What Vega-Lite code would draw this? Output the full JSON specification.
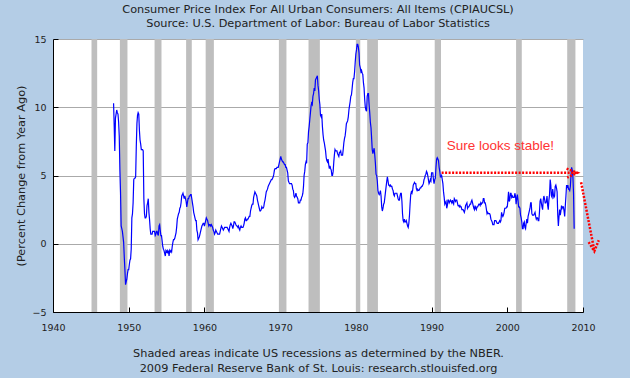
{
"$schema":"https://vega.github.io/schema/vega-lite/v6.json",
"width":530,"height":273,
"autosize":{"type":"none"},
"padding":{"left":53,"top":39,"right":47,"bottom":66},
"background":"#b4cde6",
"title":{"text":["Consumer Price Index For All Urban Consumers: All Items (CPIAUCSL)","Source: U.S. Department of Labor: Bureau of Labor Statistics"],"font":"DejaVu Sans","fontSize":11.3,"fontWeight":"normal","color":"#222222","lineHeight":14,"offset":5,"anchor":"middle"},
"config":{
"view":{"fill":"white","stroke":null},
"axisX":{"domainColor":"#000000","tickColor":"#000000","tickSize":-5,"labelPadding":15,"labelFont":"DejaVu Sans","labelFontSize":9.5,"labelColor":"#222222","grid":false,"titleFont":"DejaVu Sans","titleFontSize":11.3,"titleFontWeight":"normal","titleColor":"#222222","titlePadding":16,"titleLineHeight":14.5,"labelFlush":false},
"axisY":{"domainColor":"#000000","tickColor":"#000000","tickSize":-5,"labelPadding":12,"grid":true,"gridColor":"#aaaaaa","gridOpacity":1,"labelFont":"DejaVu Sans","labelFontSize":9.5,"labelColor":"#222222","titleFont":"DejaVu Sans","titleFontSize":11.3,"titleFontWeight":"normal","titleColor":"#222222","titlePadding":5}
},
"datasets":{
"rec":[{"d":"1945-02","d2":"1945-11"},{"d":"1948-11","d2":"1949-11"},{"d":"1953-06","d2":"1954-05"},{"d":"1957-08","d2":"1958-05"},{"d":"1960-03","d2":"1961-04"},{"d":"1969-11","d2":"1970-11"},{"d":"1973-10","d2":"1975-04"},{"d":"1980-01","d2":"1980-08"},{"d":"1981-07","d2":"1982-12"},{"d":"1990-06","d2":"1991-04"},{"d":"2001-03","d2":"2001-12"},{"d":"2007-12","d2":"2009-01"}],
"arrows":[{"g":"h","o":1,"d":"1991-05","v":5.2},{"g":"h","o":2,"d":"2009-04","v":5.2},{"g":"a1","o":1,"d":"2007-11","v":5.5},{"g":"a1","o":2,"d":"2009-04","v":5.2},{"g":"a1","o":3,"d":"2007-12","v":4.85},{"g":"dg","o":1,"d":"2009-10","v":4.5},{"g":"dg","o":2,"d":"2011-07","v":-0.5},{"g":"a2","o":1,"d":"2010-10","v":0.12},{"g":"a2","o":2,"d":"2011-07","v":-0.55},{"g":"a2","o":3,"d":"2012-02","v":0.26}],
"note":[{"d":"1999-02","v":6.9,"label":"Sure looks stable!"}],
"cpi":[
{"d":"1948-01","v":10.3},{"d":"1948-02","v":8.6},{"d":"1948-03","v":6.8},{"d":"1948-04","v":9.2},{"d":"1948-05","v":9.5},{"d":"1948-06","v":9.8},{"d":"1948-07","v":9.6},{"d":"1948-08","v":9.5},{"d":"1948-09","v":8.9},{"d":"1948-10","v":7.9},{"d":"1948-11","v":5.4},{"d":"1948-12","v":3.8},
{"d":"1949-01","v":1.3},{"d":"1949-02","v":1.1},{"d":"1949-03","v":0.9},{"d":"1949-04","v":0.5},{"d":"1949-05","v":0.1},{"d":"1949-06","v":-1.0},{"d":"1949-07","v":-1.9},{"d":"1949-08","v":-3.0},{"d":"1949-09","v":-2.8},{"d":"1949-10","v":-2.6},{"d":"1949-11","v":-2.2},{"d":"1949-12","v":-1.9},
{"d":"1950-01","v":-1.9},{"d":"1950-02","v":-1.5},{"d":"1950-03","v":-1.2},{"d":"1950-04","v":-1.1},{"d":"1950-05","v":-0.4},{"d":"1950-06","v":1.9},{"d":"1950-07","v":2.2},{"d":"1950-08","v":3.0},{"d":"1950-09","v":4.7},{"d":"1950-10","v":4.8},{"d":"1950-11","v":4.8},{"d":"1950-12","v":4.9},
{"d":"1951-01","v":7.1},{"d":"1951-02","v":8.8},{"d":"1951-03","v":9.4},{"d":"1951-04","v":9.6},{"d":"1951-05","v":9.5},{"d":"1951-06","v":8.3},{"d":"1951-07","v":7.6},{"d":"1951-08","v":7.3},{"d":"1951-09","v":6.9},{"d":"1951-10","v":6.9},{"d":"1951-11","v":6.9},{"d":"1951-12","v":6.8},
{"d":"1952-01","v":3.3},{"d":"1952-02","v":2.2},{"d":"1952-03","v":1.9},{"d":"1952-04","v":1.9},{"d":"1952-05","v":2.0},{"d":"1952-06","v":2.8},{"d":"1952-07","v":3.0},{"d":"1952-08","v":3.3},{"d":"1952-09","v":2.3},{"d":"1952-10","v":1.8},{"d":"1952-11","v":1.1},{"d":"1952-12","v":0.7},
{"d":"1953-01","v":0.7},{"d":"1953-02","v":0.7},{"d":"1953-03","v":0.9},{"d":"1953-04","v":0.9},{"d":"1953-05","v":0.9},{"d":"1953-06","v":0.9},{"d":"1953-07","v":0.6},{"d":"1953-08","v":0.7},{"d":"1953-09","v":0.9},{"d":"1953-10","v":0.9},{"d":"1953-11","v":0.7},{"d":"1953-12","v":0.6},
{"d":"1954-01","v":1.3},{"d":"1954-02","v":1.4},{"d":"1954-03","v":1.0},{"d":"1954-04","v":0.6},{"d":"1954-05","v":0.6},{"d":"1954-06","v":0.2},{"d":"1954-07","v":-0.2},{"d":"1954-08","v":-0.4},{"d":"1954-09","v":-0.5},{"d":"1954-10","v":-0.7},{"d":"1954-11","v":-0.9},{"d":"1954-12","v":-0.5},
{"d":"1955-01","v":-0.6},{"d":"1955-02","v":-0.5},{"d":"1955-03","v":-0.7},{"d":"1955-04","v":-0.5},{"d":"1955-05","v":-0.9},{"d":"1955-06","v":-0.5},{"d":"1955-07","v":-0.6},{"d":"1955-08","v":-0.5},{"d":"1955-09","v":-0.6},{"d":"1955-10","v":-0.2},{"d":"1955-11","v":0.1},{"d":"1955-12","v":0.3},
{"d":"1956-01","v":0.3},{"d":"1956-02","v":0.4},{"d":"1956-03","v":0.6},{"d":"1956-04","v":0.8},{"d":"1956-05","v":1.2},{"d":"1956-06","v":1.8},{"d":"1956-07","v":2.0},{"d":"1956-08","v":2.2},{"d":"1956-09","v":2.3},{"d":"1956-10","v":2.6},{"d":"1956-11","v":2.7},{"d":"1956-12","v":3.0},
{"d":"1957-01","v":3.5},{"d":"1957-02","v":3.6},{"d":"1957-03","v":3.7},{"d":"1957-04","v":3.5},{"d":"1957-05","v":3.3},{"d":"1957-06","v":3.5},{"d":"1957-07","v":3.3},{"d":"1957-08","v":3.1},{"d":"1957-09","v":2.7},{"d":"1957-10","v":3.0},{"d":"1957-11","v":3.3},{"d":"1957-12","v":3.3},
{"d":"1958-01","v":3.5},{"d":"1958-02","v":3.5},{"d":"1958-03","v":3.6},{"d":"1958-04","v":3.6},{"d":"1958-05","v":3.3},{"d":"1958-06","v":3.0},{"d":"1958-07","v":2.7},{"d":"1958-08","v":2.3},{"d":"1958-09","v":2.1},{"d":"1958-10","v":1.9},{"d":"1958-11","v":1.7},{"d":"1958-12","v":1.7},
{"d":"1959-01","v":1.0},{"d":"1959-02","v":0.8},{"d":"1959-03","v":0.3},{"d":"1959-04","v":0.4},{"d":"1959-05","v":0.5},{"d":"1959-06","v":0.7},{"d":"1959-07","v":0.9},{"d":"1959-08","v":1.1},{"d":"1959-09","v":1.3},{"d":"1959-10","v":1.4},{"d":"1959-11","v":1.5},{"d":"1959-12","v":1.5},
{"d":"1960-01","v":1.3},{"d":"1960-02","v":1.5},{"d":"1960-03","v":1.7},{"d":"1960-04","v":1.9},{"d":"1960-05","v":1.8},{"d":"1960-06","v":1.7},{"d":"1960-07","v":1.5},{"d":"1960-08","v":1.3},{"d":"1960-09","v":1.4},{"d":"1960-10","v":1.4},{"d":"1960-11","v":1.3},{"d":"1960-12","v":1.4},
{"d":"1961-01","v":1.3},{"d":"1961-02","v":1.2},{"d":"1961-03","v":1.0},{"d":"1961-04","v":0.9},{"d":"1961-05","v":0.7},{"d":"1961-06","v":0.8},{"d":"1961-07","v":1.0},{"d":"1961-08","v":0.9},{"d":"1961-09","v":0.8},{"d":"1961-10","v":0.7},{"d":"1961-11","v":0.7},{"d":"1961-12","v":0.7},
{"d":"1962-01","v":0.7},{"d":"1962-02","v":0.9},{"d":"1962-03","v":1.1},{"d":"1962-04","v":1.3},{"d":"1962-05","v":1.2},{"d":"1962-06","v":1.1},{"d":"1962-07","v":1.0},{"d":"1962-08","v":1.1},{"d":"1962-09","v":1.2},{"d":"1962-10","v":1.2},{"d":"1962-11","v":1.2},{"d":"1962-12","v":1.2},
{"d":"1963-01","v":1.2},{"d":"1963-02","v":1.1},{"d":"1963-03","v":1.0},{"d":"1963-04","v":0.9},{"d":"1963-05","v":1.2},{"d":"1963-06","v":1.4},{"d":"1963-07","v":1.5},{"d":"1963-08","v":1.4},{"d":"1963-09","v":1.3},{"d":"1963-10","v":1.1},{"d":"1963-11","v":1.3},{"d":"1963-12","v":1.6},
{"d":"1964-01","v":1.6},{"d":"1964-02","v":1.5},{"d":"1964-03","v":1.4},{"d":"1964-04","v":1.3},{"d":"1964-05","v":1.3},{"d":"1964-06","v":1.2},{"d":"1964-07","v":1.3},{"d":"1964-08","v":1.1},{"d":"1964-09","v":1.0},{"d":"1964-10","v":1.2},{"d":"1964-11","v":1.3},{"d":"1964-12","v":1.2},
{"d":"1965-01","v":1.2},{"d":"1965-02","v":1.2},{"d":"1965-03","v":1.3},{"d":"1965-04","v":1.5},{"d":"1965-05","v":1.8},{"d":"1965-06","v":1.9},{"d":"1965-07","v":1.7},{"d":"1965-08","v":1.7},{"d":"1965-09","v":1.8},{"d":"1965-10","v":1.8},{"d":"1965-11","v":1.9},{"d":"1965-12","v":2.0},
{"d":"1966-01","v":2.0},{"d":"1966-02","v":2.4},{"d":"1966-03","v":2.6},{"d":"1966-04","v":2.8},{"d":"1966-05","v":2.9},{"d":"1966-06","v":2.9},{"d":"1966-07","v":3.4},{"d":"1966-08","v":3.6},{"d":"1966-09","v":3.8},{"d":"1966-10","v":3.7},{"d":"1966-11","v":3.6},{"d":"1966-12","v":3.5},
{"d":"1967-01","v":3.2},{"d":"1967-02","v":3.0},{"d":"1967-03","v":2.8},{"d":"1967-04","v":2.6},{"d":"1967-05","v":2.4},{"d":"1967-06","v":2.4},{"d":"1967-07","v":2.5},{"d":"1967-08","v":2.7},{"d":"1967-09","v":2.6},{"d":"1967-10","v":2.6},{"d":"1967-11","v":2.7},{"d":"1967-12","v":3.0},
{"d":"1968-01","v":3.2},{"d":"1968-02","v":3.5},{"d":"1968-03","v":3.8},{"d":"1968-04","v":3.9},{"d":"1968-05","v":4.0},{"d":"1968-06","v":4.2},{"d":"1968-07","v":4.3},{"d":"1968-08","v":4.4},{"d":"1968-09","v":4.5},{"d":"1968-10","v":4.6},{"d":"1968-11","v":4.7},{"d":"1968-12","v":4.7},
{"d":"1969-01","v":4.8},{"d":"1969-02","v":4.9},{"d":"1969-03","v":5.1},{"d":"1969-04","v":5.4},{"d":"1969-05","v":5.5},{"d":"1969-06","v":5.5},{"d":"1969-07","v":5.5},{"d":"1969-08","v":5.6},{"d":"1969-09","v":5.6},{"d":"1969-10","v":5.6},{"d":"1969-11","v":5.8},{"d":"1969-12","v":6.0},
{"d":"1970-01","v":6.2},{"d":"1970-02","v":6.4},{"d":"1970-03","v":6.2},{"d":"1970-04","v":6.1},{"d":"1970-05","v":6.0},{"d":"1970-06","v":6.0},{"d":"1970-07","v":5.9},{"d":"1970-08","v":5.8},{"d":"1970-09","v":5.8},{"d":"1970-10","v":5.6},{"d":"1970-11","v":5.6},{"d":"1970-12","v":5.4},
{"d":"1971-01","v":5.2},{"d":"1971-02","v":4.6},{"d":"1971-03","v":4.5},{"d":"1971-04","v":4.4},{"d":"1971-05","v":4.4},{"d":"1971-06","v":4.4},{"d":"1971-07","v":4.4},{"d":"1971-08","v":4.3},{"d":"1971-09","v":4.0},{"d":"1971-10","v":3.9},{"d":"1971-11","v":3.5},{"d":"1971-12","v":3.4},
{"d":"1972-01","v":3.5},{"d":"1972-02","v":3.7},{"d":"1972-03","v":3.5},{"d":"1972-04","v":3.4},{"d":"1972-05","v":3.3},{"d":"1972-06","v":3.0},{"d":"1972-07","v":3.0},{"d":"1972-08","v":3.0},{"d":"1972-09","v":3.2},{"d":"1972-10","v":3.2},{"d":"1972-11","v":3.4},{"d":"1972-12","v":3.5},
{"d":"1973-01","v":3.7},{"d":"1973-02","v":4.2},{"d":"1973-03","v":5.0},{"d":"1973-04","v":5.3},{"d":"1973-05","v":5.8},{"d":"1973-06","v":6.0},{"d":"1973-07","v":5.9},{"d":"1973-08","v":7.3},{"d":"1973-09","v":7.4},{"d":"1973-10","v":8.2},{"d":"1973-11","v":8.6},{"d":"1973-12","v":9.1},
{"d":"1974-01","v":9.6},{"d":"1974-02","v":10.1},{"d":"1974-03","v":10.3},{"d":"1974-04","v":10.2},{"d":"1974-05","v":10.8},{"d":"1974-06","v":11.0},{"d":"1974-07","v":11.4},{"d":"1974-08","v":11.2},{"d":"1974-09","v":12.0},{"d":"1974-10","v":12.1},{"d":"1974-11","v":12.2},{"d":"1974-12","v":12.3},
{"d":"1975-01","v":11.6},{"d":"1975-02","v":11.2},{"d":"1975-03","v":10.6},{"d":"1975-04","v":10.2},{"d":"1975-05","v":9.4},{"d":"1975-06","v":9.3},{"d":"1975-07","v":9.5},{"d":"1975-08","v":8.6},{"d":"1975-09","v":8.0},{"d":"1975-10","v":7.6},{"d":"1975-11","v":7.4},{"d":"1975-12","v":7.1},
{"d":"1976-01","v":6.8},{"d":"1976-02","v":6.3},{"d":"1976-03","v":6.1},{"d":"1976-04","v":6.0},{"d":"1976-05","v":6.2},{"d":"1976-06","v":5.8},{"d":"1976-07","v":5.5},{"d":"1976-08","v":5.7},{"d":"1976-09","v":5.5},{"d":"1976-10","v":5.4},{"d":"1976-11","v":5.0},{"d":"1976-12","v":5.0},
{"d":"1977-01","v":5.3},{"d":"1977-02","v":6.0},{"d":"1977-03","v":6.5},{"d":"1977-04","v":6.9},{"d":"1977-05","v":6.8},{"d":"1977-06","v":6.8},{"d":"1977-07","v":6.8},{"d":"1977-08","v":6.6},{"d":"1977-09","v":6.5},{"d":"1977-10","v":6.4},{"d":"1977-11","v":6.7},{"d":"1977-12","v":6.7},
{"d":"1978-01","v":6.8},{"d":"1978-02","v":6.5},{"d":"1978-03","v":6.5},{"d":"1978-04","v":6.5},{"d":"1978-05","v":6.9},{"d":"1978-06","v":7.4},{"d":"1978-07","v":7.7},{"d":"1978-08","v":7.9},{"d":"1978-09","v":8.3},{"d":"1978-10","v":8.8},{"d":"1978-11","v":8.9},{"d":"1978-12","v":9.0},
{"d":"1979-01","v":9.3},{"d":"1979-02","v":9.8},{"d":"1979-03","v":10.1},{"d":"1979-04","v":10.4},{"d":"1979-05","v":10.8},{"d":"1979-06","v":10.9},{"d":"1979-07","v":11.3},{"d":"1979-08","v":11.8},{"d":"1979-09","v":12.1},{"d":"1979-10","v":12.1},{"d":"1979-11","v":12.6},{"d":"1979-12","v":13.3},
{"d":"1980-01","v":13.9},{"d":"1980-02","v":14.2},{"d":"1980-03","v":14.6},{"d":"1980-04","v":14.6},{"d":"1980-05","v":14.4},{"d":"1980-06","v":14.0},{"d":"1980-07","v":13.1},{"d":"1980-08","v":12.9},{"d":"1980-09","v":12.6},{"d":"1980-10","v":12.7},{"d":"1980-11","v":12.5},{"d":"1980-12","v":12.4},
{"d":"1981-01","v":11.8},{"d":"1981-02","v":11.4},{"d":"1981-03","v":10.6},{"d":"1981-04","v":10.0},{"d":"1981-05","v":9.8},{"d":"1981-06","v":9.7},{"d":"1981-07","v":10.8},{"d":"1981-08","v":11.0},{"d":"1981-09","v":11.0},{"d":"1981-10","v":10.2},{"d":"1981-11","v":9.6},{"d":"1981-12","v":8.9},
{"d":"1982-01","v":8.5},{"d":"1982-02","v":7.7},{"d":"1982-03","v":6.9},{"d":"1982-04","v":6.6},{"d":"1982-05","v":6.8},{"d":"1982-06","v":7.0},{"d":"1982-07","v":6.5},{"d":"1982-08","v":5.9},{"d":"1982-09","v":5.1},{"d":"1982-10","v":5.0},{"d":"1982-11","v":4.6},{"d":"1982-12","v":3.9},
{"d":"1983-01","v":3.7},{"d":"1983-02","v":3.6},{"d":"1983-03","v":3.7},{"d":"1983-04","v":3.9},{"d":"1983-05","v":3.5},{"d":"1983-06","v":2.7},{"d":"1983-07","v":2.4},{"d":"1983-08","v":2.6},{"d":"1983-09","v":2.9},{"d":"1983-10","v":3.0},{"d":"1983-11","v":3.4},{"d":"1983-12","v":3.8},
{"d":"1984-01","v":4.2},{"d":"1984-02","v":4.6},{"d":"1984-03","v":4.9},{"d":"1984-04","v":4.6},{"d":"1984-05","v":4.3},{"d":"1984-06","v":4.3},{"d":"1984-07","v":4.2},{"d":"1984-08","v":4.3},{"d":"1984-09","v":4.2},{"d":"1984-10","v":4.2},{"d":"1984-11","v":4.0},{"d":"1984-12","v":3.9},
{"d":"1985-01","v":3.6},{"d":"1985-02","v":3.5},{"d":"1985-03","v":3.7},{"d":"1985-04","v":3.7},{"d":"1985-05","v":3.7},{"d":"1985-06","v":3.7},{"d":"1985-07","v":3.5},{"d":"1985-08","v":3.3},{"d":"1985-09","v":3.2},{"d":"1985-10","v":3.2},{"d":"1985-11","v":3.5},{"d":"1985-12","v":3.7},
{"d":"1986-01","v":3.7},{"d":"1986-02","v":3.1},{"d":"1986-03","v":2.2},{"d":"1986-04","v":1.7},{"d":"1986-05","v":1.6},{"d":"1986-06","v":1.8},{"d":"1986-07","v":1.6},{"d":"1986-08","v":1.6},{"d":"1986-09","v":1.7},{"d":"1986-10","v":1.5},{"d":"1986-11","v":1.3},{"d":"1986-12","v":1.2},
{"d":"1987-01","v":1.5},{"d":"1987-02","v":2.1},{"d":"1987-03","v":2.9},{"d":"1987-04","v":3.6},{"d":"1987-05","v":3.8},{"d":"1987-06","v":3.7},{"d":"1987-07","v":3.9},{"d":"1987-08","v":4.3},{"d":"1987-09","v":4.4},{"d":"1987-10","v":4.5},{"d":"1987-11","v":4.4},{"d":"1987-12","v":4.4},
{"d":"1988-01","v":4.0},{"d":"1988-02","v":3.9},{"d":"1988-03","v":4.0},{"d":"1988-04","v":3.9},{"d":"1988-05","v":3.9},{"d":"1988-06","v":4.0},{"d":"1988-07","v":4.1},{"d":"1988-08","v":4.1},{"d":"1988-09","v":4.2},{"d":"1988-10","v":4.2},{"d":"1988-11","v":4.3},{"d":"1988-12","v":4.4},
{"d":"1989-01","v":4.7},{"d":"1989-02","v":4.8},{"d":"1989-03","v":5.0},{"d":"1989-04","v":5.1},{"d":"1989-05","v":5.3},{"d":"1989-06","v":5.2},{"d":"1989-07","v":5.0},{"d":"1989-08","v":4.7},{"d":"1989-09","v":4.4},{"d":"1989-10","v":4.5},{"d":"1989-11","v":4.7},{"d":"1989-12","v":4.6},
{"d":"1990-01","v":5.2},{"d":"1990-02","v":5.2},{"d":"1990-03","v":5.2},{"d":"1990-04","v":4.7},{"d":"1990-05","v":4.4},{"d":"1990-06","v":4.7},{"d":"1990-07","v":4.8},{"d":"1990-08","v":5.6},{"d":"1990-09","v":6.2},{"d":"1990-10","v":6.3},{"d":"1990-11","v":6.2},{"d":"1990-12","v":6.1},
{"d":"1991-01","v":5.6},{"d":"1991-02","v":5.3},{"d":"1991-03","v":4.9},{"d":"1991-04","v":4.9},{"d":"1991-05","v":5.0},{"d":"1991-06","v":4.7},{"d":"1991-07","v":4.4},{"d":"1991-08","v":3.8},{"d":"1991-09","v":3.4},{"d":"1991-10","v":2.9},{"d":"1991-11","v":3.0},{"d":"1991-12","v":3.1},
{"d":"1992-01","v":2.6},{"d":"1992-02","v":2.8},{"d":"1992-03","v":3.2},{"d":"1992-04","v":3.2},{"d":"1992-05","v":3.0},{"d":"1992-06","v":3.1},{"d":"1992-07","v":3.2},{"d":"1992-08","v":3.1},{"d":"1992-09","v":3.0},{"d":"1992-10","v":3.2},{"d":"1992-11","v":3.0},{"d":"1992-12","v":2.9},
{"d":"1993-01","v":3.3},{"d":"1993-02","v":3.2},{"d":"1993-03","v":3.1},{"d":"1993-04","v":3.2},{"d":"1993-05","v":3.2},{"d":"1993-06","v":3.0},{"d":"1993-07","v":2.8},{"d":"1993-08","v":2.8},{"d":"1993-09","v":2.7},{"d":"1993-10","v":2.8},{"d":"1993-11","v":2.7},{"d":"1993-12","v":2.7},
{"d":"1994-01","v":2.5},{"d":"1994-02","v":2.5},{"d":"1994-03","v":2.5},{"d":"1994-04","v":2.4},{"d":"1994-05","v":2.3},{"d":"1994-06","v":2.5},{"d":"1994-07","v":2.8},{"d":"1994-08","v":2.9},{"d":"1994-09","v":3.0},{"d":"1994-10","v":2.6},{"d":"1994-11","v":2.7},{"d":"1994-12","v":2.7},
{"d":"1995-01","v":2.8},{"d":"1995-02","v":2.9},{"d":"1995-03","v":2.9},{"d":"1995-04","v":3.1},{"d":"1995-05","v":3.2},{"d":"1995-06","v":3.0},{"d":"1995-07","v":2.8},{"d":"1995-08","v":2.6},{"d":"1995-09","v":2.5},{"d":"1995-10","v":2.8},{"d":"1995-11","v":2.6},{"d":"1995-12","v":2.5},
{"d":"1996-01","v":2.7},{"d":"1996-02","v":2.7},{"d":"1996-03","v":2.8},{"d":"1996-04","v":2.9},{"d":"1996-05","v":2.9},{"d":"1996-06","v":2.8},{"d":"1996-07","v":3.0},{"d":"1996-08","v":2.9},{"d":"1996-09","v":3.0},{"d":"1996-10","v":3.0},{"d":"1996-11","v":3.3},{"d":"1996-12","v":3.3},
{"d":"1997-01","v":3.0},{"d":"1997-02","v":3.0},{"d":"1997-03","v":2.8},{"d":"1997-04","v":2.5},{"d":"1997-05","v":2.2},{"d":"1997-06","v":2.3},{"d":"1997-07","v":2.2},{"d":"1997-08","v":2.2},{"d":"1997-09","v":2.2},{"d":"1997-10","v":2.1},{"d":"1997-11","v":1.8},{"d":"1997-12","v":1.7},
{"d":"1998-01","v":1.6},{"d":"1998-02","v":1.4},{"d":"1998-03","v":1.4},{"d":"1998-04","v":1.4},{"d":"1998-05","v":1.7},{"d":"1998-06","v":1.7},{"d":"1998-07","v":1.7},{"d":"1998-08","v":1.6},{"d":"1998-09","v":1.5},{"d":"1998-10","v":1.5},{"d":"1998-11","v":1.5},{"d":"1998-12","v":1.6},
{"d":"1999-01","v":1.7},{"d":"1999-02","v":1.6},{"d":"1999-03","v":1.7},{"d":"1999-04","v":2.3},{"d":"1999-05","v":2.1},{"d":"1999-06","v":2.0},{"d":"1999-07","v":2.1},{"d":"1999-08","v":2.3},{"d":"1999-09","v":2.6},{"d":"1999-10","v":2.6},{"d":"1999-11","v":2.6},{"d":"1999-12","v":2.7},
{"d":"2000-01","v":2.7},{"d":"2000-02","v":3.2},{"d":"2000-03","v":3.8},{"d":"2000-04","v":3.1},{"d":"2000-05","v":3.2},{"d":"2000-06","v":3.7},{"d":"2000-07","v":3.7},{"d":"2000-08","v":3.4},{"d":"2000-09","v":3.5},{"d":"2000-10","v":3.4},{"d":"2000-11","v":3.4},{"d":"2000-12","v":3.4},
{"d":"2001-01","v":3.7},{"d":"2001-02","v":3.5},{"d":"2001-03","v":2.9},{"d":"2001-04","v":3.3},{"d":"2001-05","v":3.6},{"d":"2001-06","v":3.2},{"d":"2001-07","v":2.7},{"d":"2001-08","v":2.7},{"d":"2001-09","v":2.6},{"d":"2001-10","v":2.1},{"d":"2001-11","v":1.9},{"d":"2001-12","v":1.6},
{"d":"2002-01","v":1.1},{"d":"2002-02","v":1.1},{"d":"2002-03","v":1.5},{"d":"2002-04","v":1.6},{"d":"2002-05","v":1.2},{"d":"2002-06","v":1.1},{"d":"2002-07","v":1.5},{"d":"2002-08","v":1.8},{"d":"2002-09","v":1.5},{"d":"2002-10","v":2.0},{"d":"2002-11","v":2.2},{"d":"2002-12","v":2.4},
{"d":"2003-01","v":2.6},{"d":"2003-02","v":3.0},{"d":"2003-03","v":3.0},{"d":"2003-04","v":2.2},{"d":"2003-05","v":2.1},{"d":"2003-06","v":2.1},{"d":"2003-07","v":2.1},{"d":"2003-08","v":2.2},{"d":"2003-09","v":2.3},{"d":"2003-10","v":2.0},{"d":"2003-11","v":1.8},{"d":"2003-12","v":1.9},
{"d":"2004-01","v":1.9},{"d":"2004-02","v":1.7},{"d":"2004-03","v":1.7},{"d":"2004-04","v":2.3},{"d":"2004-05","v":3.1},{"d":"2004-06","v":3.3},{"d":"2004-07","v":3.0},{"d":"2004-08","v":2.7},{"d":"2004-09","v":2.5},{"d":"2004-10","v":3.2},{"d":"2004-11","v":3.5},{"d":"2004-12","v":3.3},
{"d":"2005-01","v":3.0},{"d":"2005-02","v":3.0},{"d":"2005-03","v":3.1},{"d":"2005-04","v":3.5},{"d":"2005-05","v":2.8},{"d":"2005-06","v":2.5},{"d":"2005-07","v":3.2},{"d":"2005-08","v":3.6},{"d":"2005-09","v":4.7},{"d":"2005-10","v":4.3},{"d":"2005-11","v":3.5},{"d":"2005-12","v":3.4},
{"d":"2006-01","v":4.0},{"d":"2006-02","v":3.6},{"d":"2006-03","v":3.4},{"d":"2006-04","v":3.5},{"d":"2006-05","v":4.2},{"d":"2006-06","v":4.3},{"d":"2006-07","v":4.1},{"d":"2006-08","v":3.8},{"d":"2006-09","v":2.1},{"d":"2006-10","v":1.3},{"d":"2006-11","v":2.0},{"d":"2006-12","v":2.5},
{"d":"2007-01","v":2.1},{"d":"2007-02","v":2.4},{"d":"2007-03","v":2.8},{"d":"2007-04","v":2.6},{"d":"2007-05","v":2.7},{"d":"2007-06","v":2.7},{"d":"2007-07","v":2.4},{"d":"2007-08","v":2.0},{"d":"2007-09","v":2.8},{"d":"2007-10","v":3.5},{"d":"2007-11","v":4.3},{"d":"2007-12","v":4.1},
{"d":"2008-01","v":4.3},{"d":"2008-02","v":4.0},{"d":"2008-03","v":4.0},{"d":"2008-04","v":3.9},{"d":"2008-05","v":4.2},{"d":"2008-06","v":5.0},{"d":"2008-07","v":5.6},{"d":"2008-08","v":5.4},{"d":"2008-09","v":4.9},{"d":"2008-10","v":3.7},{"d":"2008-11","v":1.1}
]
},
"layer":[
{"data":{"name":"rec"},"mark":{"type":"rect","color":"#bebebe"},
 "encoding":{"x":{"field":"d","type":"temporal","scale":{"type":"utc","domain":[{"year":1940,"utc":true},{"year":2010,"utc":true}]},"axis":{"format":"%Y","tickCount":{"interval":"year","step":10},"title":["Shaded areas indicate US recessions as determined by the NBER.","2009 Federal Reserve Bank of St. Louis: research.stlouisfed.org"]}},"x2":{"field":"d2"}}},
{"data":{"name":"cpi"},"mark":{"type":"line","color":"#0000ff","strokeWidth":1.2},
 "encoding":{"x":{"field":"d","type":"temporal","axis":{"format":"%Y","tickCount":{"interval":"year","step":10},"title":["Shaded areas indicate US recessions as determined by the NBER.","2009 Federal Reserve Bank of St. Louis: research.stlouisfed.org"]}},"y":{"field":"v","type":"quantitative","scale":{"domain":[-5,15],"nice":false},"axis":{"values":[-5,0,5,10,15],"title":"(Percent Change from Year Ago)"}}}},
{"data":{"name":"arrows"},"mark":{"type":"line","color":"#ff0000","strokeWidth":2.5,"strokeDash":[2,1.5],"strokeCap":"butt"},
 "encoding":{"x":{"field":"d","type":"temporal"},"y":{"field":"v","type":"quantitative"},"detail":{"field":"g"},"order":{"field":"o"}}},
{"data":{"name":"note"},"mark":{"type":"text","font":"Liberation Sans","fontSize":13.5,"color":"#ff3333","align":"center","baseline":"alphabetic"},
 "encoding":{"x":{"field":"d","type":"temporal"},"y":{"field":"v","type":"quantitative"},"text":{"field":"label"}}}
]
}
